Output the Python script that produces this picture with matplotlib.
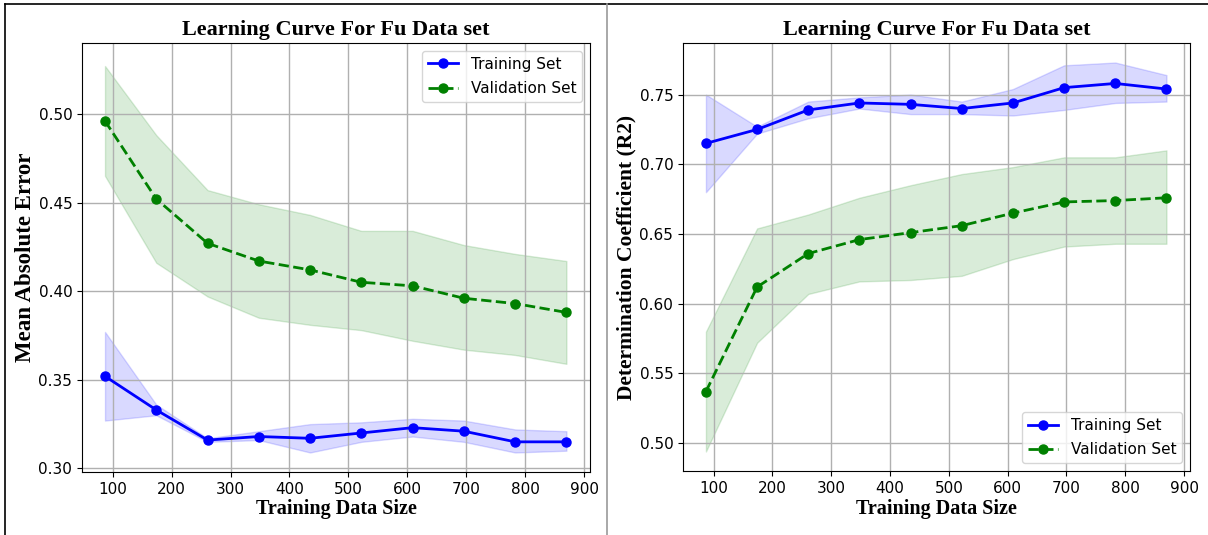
import numpy as np
import matplotlib.pyplot as plt
from matplotlib.lines import Line2D

train_sizes = [87, 174, 261, 348, 435, 522, 609, 696, 783, 870]

# Mean absolute error curves
mae_train = [0.352, 0.333, 0.316, 0.318, 0.317, 0.320, 0.323, 0.321, 0.315, 0.315]
mae_train_lo = [0.327, 0.330, 0.315, 0.316, 0.309, 0.315, 0.318, 0.315, 0.309, 0.310]
mae_train_hi = [0.377, 0.336, 0.317, 0.321, 0.325, 0.326, 0.328, 0.327, 0.322, 0.321]
mae_val = [0.496, 0.452, 0.427, 0.417, 0.412, 0.405, 0.403, 0.396, 0.393, 0.388]
mae_val_lo = [0.465, 0.416, 0.397, 0.385, 0.381, 0.378, 0.372, 0.367, 0.364, 0.359]
mae_val_hi = [0.527, 0.488, 0.457, 0.449, 0.443, 0.434, 0.434, 0.426, 0.421, 0.417]

# R2 curves
r2_train = [0.715, 0.725, 0.739, 0.744, 0.743, 0.740, 0.744, 0.755, 0.758, 0.754]
r2_train_lo = [0.680, 0.722, 0.733, 0.740, 0.736, 0.736, 0.735, 0.739, 0.744, 0.745]
r2_train_hi = [0.750, 0.727, 0.745, 0.748, 0.750, 0.745, 0.754, 0.771, 0.773, 0.764]
r2_val = [0.537, 0.612, 0.636, 0.646, 0.651, 0.656, 0.665, 0.673, 0.674, 0.676]
r2_val_lo = [0.494, 0.572, 0.607, 0.616, 0.617, 0.620, 0.632, 0.641, 0.643, 0.643]
r2_val_hi = [0.580, 0.654, 0.664, 0.676, 0.685, 0.693, 0.698, 0.705, 0.705, 0.710]

serif_bold = dict(family="Liberation Serif", fontweight="bold")

fig = plt.figure(figsize=(12.08, 5.35), dpi=100)
ax1 = fig.add_axes([0.0679, 0.1178, 0.4205, 0.8019])
ax2 = fig.add_axes([0.5654, 0.1196, 0.4197, 0.8000])


def draw_curve(ax, tr, tr_lo, tr_hi, va, va_lo, va_hi, ylabel, ysize, loc):
    ax.plot(train_sizes, tr, "o-", color="blue", lw=2, ms=6.5, label="Training Set")
    ax.fill_between(train_sizes, tr_lo, tr_hi, color="blue", alpha=0.15)
    ax.plot(train_sizes, va, "o--", color="green", lw=2, ms=6.5, label="Validation Set")
    ax.fill_between(train_sizes, va_lo, va_hi, color="green", alpha=0.15)
    ax.set_title("Learning Curve For Fu Data set", pad=6, fontsize=16, **serif_bold)
    ax.set_xlabel("Training Data Size", labelpad=2, fontsize=14.5, **serif_bold)
    ax.set_ylabel(ylabel, labelpad=2, fontsize=ysize, **serif_bold)
    ax.grid(True, color="#b0b0b0", lw=1)
    ax.tick_params(labelsize=11)
    ax.legend(loc=loc, fontsize=11, labelspacing=0.6)


draw_curve(ax1, mae_train, mae_train_lo, mae_train_hi,
           mae_val, mae_val_lo, mae_val_hi, "Mean Absolute Error", 16.5, "upper right")
draw_curve(ax2, r2_train, r2_train_lo, r2_train_hi,
           r2_val, r2_val_lo, r2_val_hi, "Determination Coefficient (R2)", 15.5, "lower right")

ax1.set_xlim(48, 910)
ax1.set_ylim(0.298, 0.540)
ax1.set_xticks(range(100, 901, 100))
ax2.set_xlim(48, 910)
ax2.set_ylim(0.480, 0.787)
ax2.set_xticks(range(100, 901, 100))

# frame lines around the two panels
W, H = 1208, 535
fig.add_artist(Line2D([5 / W, 1], [1 - 4 / H, 1 - 4 / H], color="black", lw=1.2))
fig.add_artist(Line2D([5 / W, 5 / W], [0, 1 - 4 / H], color="black", lw=1.2))
fig.add_artist(Line2D([607 / W, 607 / W], [0, 1 - 4 / H], color="#999999", lw=1.2))

fig.savefig("out.png", dpi=100)
